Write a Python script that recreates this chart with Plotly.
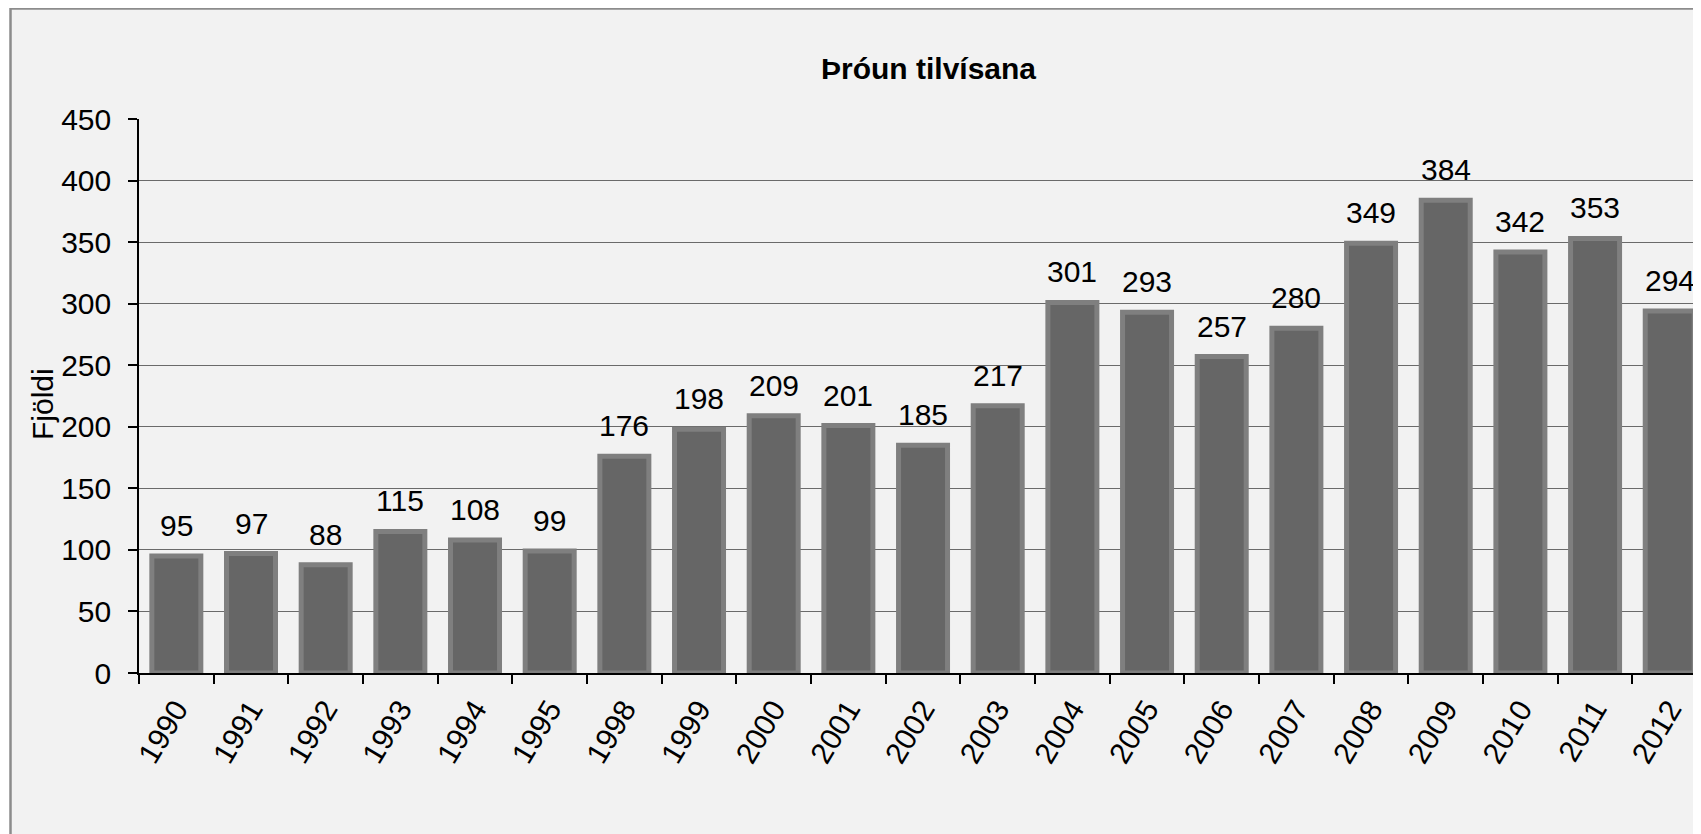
import plotly.graph_objects as go

years = ["1990", "1991", "1992", "1993", "1994", "1995", "1998", "1999", "2000",
         "2001", "2002", "2003", "2004", "2005", "2006", "2007", "2008", "2009",
         "2010", "2011", "2012"]
counts = [95, 97, 88, 115, 108, 99, 176, 198, 209, 201, 185, 217, 301, 293,
          257, 280, 349, 384, 342, 353, 294]
title_text = "Þróun tilvísana"
y_title = "Fjöldi"

# page body has an 8px default margin; compensate so the page looks 1701x834
OFF = 8
W, H = 1701 - OFF, 834 - OFF
# plot area in page pixels: x 139..(beyond 1701), y 119..673
L = 139 - OFF
T = 119 - OFF
R = 0
B = 834 - 673
pw = W - L - R
ph = H - T - B
FONT = "Arial, 'Liberation Sans', sans-serif"
FS = 30
FSX = 30


def px_x(px):
    # page pixel -> paper coordinate
    return (px - OFF - L) / pw


def px_y(py):
    return (H - B - (py - OFF)) / ph


unit_px = 74.67
x_end = -0.5 + pw / unit_px

fig = go.Figure()
fig.add_trace(go.Bar(
    x=years, y=counts, width=0.656,
    marker=dict(color="#666666", line=dict(color="#7f7f7f", width=5)),
    hoverinfo="x+y",
))

annotations = []
for i, v in enumerate(counts):
    annotations.append(dict(x=i, y=v, xref="x", yref="y", text=str(v),
                            showarrow=False, yanchor="bottom", yshift=12,
                            font=dict(family=FONT, size=FS, color="#000000")))

annotations.append(dict(x=px_x(929), y=px_y(68), xref="paper", yref="paper",
                        text="<b>" + title_text + "</b>", showarrow=False,
                        xanchor="center", yanchor="middle",
                        font=dict(family=FONT, size=FS, color="#000000")))
annotations.append(dict(x=px_x(42), y=px_y(404), xref="paper", yref="paper",
                        text=y_title, textangle=-90, showarrow=False,
                        xanchor="center", yanchor="middle",
                        font=dict(family=FONT, size=FS, color="#000000")))

fig.update_layout(
    width=W, height=H,
    margin=dict(l=L, r=R, t=T, b=B, pad=0, autoexpand=False),
    paper_bgcolor="#ffffff",
    plot_bgcolor="rgba(0,0,0,0)",
    showlegend=False,
    font=dict(family=FONT, size=FS, color="#000000"),
    annotations=annotations,
    shapes=[dict(type="rect", xref="paper", yref="paper",
                 x0=px_x(10.5), x1=px_x(1760), y0=px_y(900), y1=px_y(8.5),
                 fillcolor="#f2f2f2", line=dict(color="#8c8c8c", width=2.5),
                 layer="below")],
    xaxis=dict(
        type="category", range=[-0.5, x_end],
        tickson="boundaries", ticks="outside", ticklen=9, tickwidth=1.5,
        tickcolor="#000000", tickangle=-59, ticklabelstandoff=5,
        showline=True, linecolor="#000000", linewidth=1.6,
        showgrid=False, zeroline=False,
        tickfont=dict(family=FONT, size=FSX, color="#000000"),
    ),
    yaxis=dict(
        range=[0, 450], dtick=50, tick0=0,
        ticks="outside", ticklen=9, tickwidth=1.5, tickcolor="#000000",
        ticklabelstandoff=11,
        showline=True, linecolor="#000000", linewidth=1.6,
        showgrid=True, gridcolor="#6a6a6a", gridwidth=1,
        zeroline=False,
        tickfont=dict(family=FONT, size=FS, color="#000000"),
    ),
)

fig.write_html("out.html")
